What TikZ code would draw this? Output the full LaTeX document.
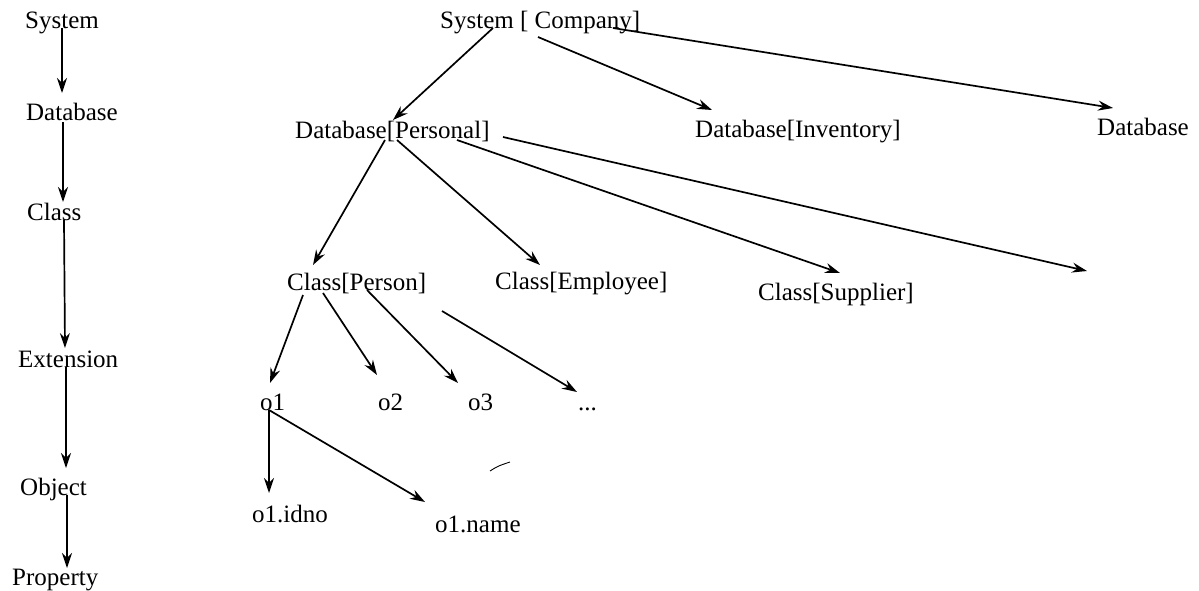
\documentclass[tikz,border=0pt]{standalone}
\usepackage{fontspec}
\setmainfont{Liberation Serif}
\usetikzlibrary{arrows.meta}
\begin{document}
\begin{tikzpicture}[x=1pt,y=-1pt,
  lbl/.style={anchor=base west,inner sep=0pt,font=\fontsize{25}{30}\selectfont},
  link/.style={line width=1.7pt,-{Stealth[length=15pt,width=10pt,inset=5pt]}}]
\useasboundingbox (0,0) rectangle (1199,590);

% level names
\node[lbl] (lsys)  at (25,28)  {System};
\node[lbl] (ldb)   at (26,120) {Database};
\node[lbl] (lcls)  at (27,220) {Class};
\node[lbl] (lext)  at (18,367) {Extension};
\node[lbl] (lobj)  at (20,495) {Object};
\node[lbl] (lprop) at (12,585) {Property};

\draw[link] ([shift={(37,0)}]lsys.base west) -- ([shift={(36,-27)}]ldb.base west);
\draw[link] ([shift={(37,2)}]ldb.base west)  -- ([shift={(36,-18)}]lcls.base west);
\draw[link] ([shift={(37,0)}]lcls.base west) -- ([shift={(47,-19)}]lext.base west);
\draw[link] ([shift={(48,0)}]lext.base west) -- ([shift={(46,-27)}]lobj.base west);
\draw[link] ([shift={(47,0)}]lobj.base west) -- ([shift={(55,-17)}]lprop.base west);

% instance tree
\node[lbl] (sys) at (440,28)  {System [ Company]};
\node[lbl] (dbp) at (295,138) {Database[Personal]};
\node[lbl] (dbi) at (695,137) {Database[Inventory]};
\node[lbl] (dbx) at (1097,135) {Database};
\node[lbl] (cp)  at (287,290) {Class[Person]};
\node[lbl] (ce)  at (495,289) {Class[Employee]};
\node[lbl] (cs)  at (758,300) {Class[Supplier]};
\node[lbl] (o1)  at (260,410) {o1};
\node[lbl] (o2)  at (378,410) {o2};
\node[lbl] (o3)  at (468,410) {o3};
\node[lbl] (dots) at (578,410) {...};
\node[lbl] (oid) at (252,522) {o1.idno};
\node[lbl] (onm) at (435,532) {o1.name};
\coordinate (fr) at (1087,271);

\draw[link] ([shift={(53,0)}]sys.base west)  -- ([shift={(98,-18)}]dbp.base west);
\draw[link] ([shift={(98,9)}]sys.base west)  -- ([shift={(17,-27)}]dbi.base west);
\draw[link] ([shift={(173,0)}]sys.base west) -- ([shift={(16,-27)}]dbx.base west);

\draw[link] ([shift={(90,2)}]dbp.base west)  -- ([shift={(26,-25)}]cp.base west);
\draw[link] ([shift={(102,2)}]dbp.base west) -- ([shift={(45,-24)}]ce.base west);
\draw[link] ([shift={(162,2)}]dbp.base west) -- ([shift={(82,-27)}]cs.base west);
\draw[link] ([shift={(208,-1)}]dbp.base west) -- (fr);

\draw[link] ([shift={(16,5)}]cp.base west)   -- ([shift={(10,-27)}]o1.base west);
\draw[link] ([shift={(36,3)}]cp.base west)   -- ([shift={(-1,-35)}]o2.base west);
\draw[link] ([shift={(80,0)}]cp.base west)   -- ([shift={(-10,-27)}]o3.base west);
\draw[link] ([shift={(155,21)}]cp.base west) -- ([shift={(-1,-18)}]dots.base west);

\draw[link] ([shift={(9,0)}]o1.base west) -- ([shift={(17,-29)}]oid.base west);
\draw[link] ([shift={(9,0)}]o1.base west) -- ([shift={(-10,-30)}]onm.base west);

% small stray stroke
\draw[line width=0.9pt] (490,471) .. controls (498,466) .. (510,462);
\end{tikzpicture}
\end{document}
